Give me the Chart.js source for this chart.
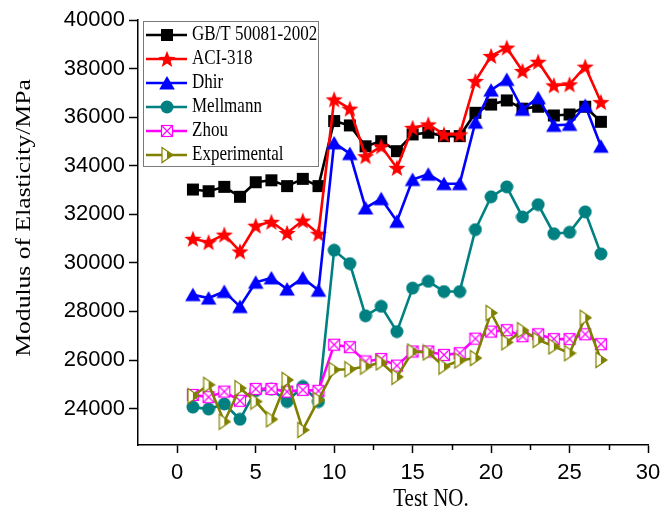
<!DOCTYPE html>
<html>
<head>
<meta charset="utf-8">
<script src="https://cdn.jsdelivr.net/npm/chart.js@4/dist/chart.umd.min.js"></script>
<style>
  html, body { margin: 0; padding: 0; background: #ffffff; }
  canvas { display: block; }
</style>
</head>
<body>
<canvas id="chart" width="660" height="512"></canvas>
<script>
// Test numbers 1..27
const tests = [1,2,3,4,5,6,7,8,9,10,11,12,13,14,15,16,17,18,19,20,21,22,23,24,25,26,27];

// Modulus of elasticity (MPa) predicted by each model, plus the measured values
const gbt = [33020, 32950, 33130, 32720, 33320, 33400, 33160, 33460, 33160, 35840, 35660, 34800, 35010, 34600, 35290, 35360, 35220, 35220, 36180, 36520, 36690, 36350, 36430, 36070, 36110, 36430, 35810];
const aci = [30990, 30850, 31160, 30470, 31530, 31690, 31230, 31740, 31200, 36730, 36350, 34390, 34800, 33910, 35560, 35700, 35290, 35290, 37490, 38520, 38860, 37900, 38280, 37310, 37350, 38080, 36620];
const dhir = [28690, 28550, 28820, 28200, 29200, 29380, 28920, 29380, 28870, 34940, 34500, 32260, 32640, 31710, 33430, 33650, 33260, 33260, 35790, 37110, 37550, 36320, 36800, 35660, 35700, 36480, 34800];
const mellmann = [24060, 23980, 24190, 23560, 24740, 24800, 24290, 24910, 24290, 30520, 29970, 27820, 28210, 27170, 28960, 29240, 28820, 28820, 31370, 32720, 33130, 31890, 32400, 31200, 31260, 32100, 30370];
const zhou = [24560, 24470, 24700, 24320, 24810, 24810, 24700, 24770, 24730, 26630, 26530, 25940, 26040, 25770, 26350, 26350, 26210, 26280, 26880, 27170, 27230, 26980, 27060, 26860, 26860, 27060, 26650];
const experimental = [24520, 24980, 23460, 24840, 24290, 23560, 25180, 23120, 24360, 25600, 25620, 25730, 25900, 25310, 26350, 26310, 25730, 25980, 26080, 27940, 26730, 27230, 26830, 26560, 26280, 27740, 26000];

const seriesNames = ['GB/T 50081-2002', 'ACI-318', 'Dhir', 'Mellmann', 'Zhou', 'Experimental'];

// Axis ticks
const xTicks = [0, 5, 10, 15, 20, 25, 30];
const xMinorTicks = [2.5, 7.5, 12.5, 17.5, 22.5, 27.5];
const yTicks = [24000, 26000, 28000, 30000, 32000, 34000, 36000, 38000, 40000];

const xTitle = 'Test NO.';
const yTitle = 'Modulus of Elasticity/MPa';

// ---- marker sprites ----
function sprite(w, h, draw) {
  const c = document.createElement('canvas');
  c.width = w; c.height = h;
  draw(c.getContext('2d'), w, h);
  return c;
}

const COLORS = ['#000000', '#ff0000', '#0000ff', '#008080', '#ff00ff', '#808000'];

const markers = [
  // filled square
  sprite(14, 14, (g) => { g.fillStyle = COLORS[0]; g.fillRect(1, 1, 12, 12); }),
  // filled five-point star
  sprite(20, 20, (g) => {
    g.fillStyle = COLORS[1];
    g.beginPath();
    for (let k = 0; k < 10; k++) {
      const r = k % 2 === 0 ? 9 : 3.8;
      const a = -Math.PI / 2 + k * Math.PI / 5;
      const px = 10 + r * Math.cos(a), py = 10.8 + r * Math.sin(a);
      if (k === 0) g.moveTo(px, py); else g.lineTo(px, py);
    }
    g.closePath(); g.fill();
  }),
  // filled up triangle
  sprite(18, 18, (g) => {
    g.fillStyle = COLORS[2];
    g.beginPath(); g.moveTo(9, 2); g.lineTo(16.8, 15.5); g.lineTo(1.2, 15.5); g.closePath(); g.fill();
  }),
  // filled circle
  sprite(14, 14, (g) => {
    g.fillStyle = COLORS[3];
    g.beginPath(); g.arc(7, 7, 6.5, 0, Math.PI * 2); g.fill();
  }),
  // hollow square with a cross
  sprite(14, 14, (g) => {
    g.fillStyle = '#ffffff'; g.fillRect(1.5, 1.5, 11, 11);
    g.strokeStyle = COLORS[4]; g.lineWidth = 1.2;
    g.strokeRect(1.5, 1.5, 11, 11);
    g.beginPath(); g.moveTo(1.5, 1.5); g.lineTo(12.5, 12.5); g.moveTo(12.5, 1.5); g.lineTo(1.5, 12.5); g.stroke();
  }),
  // right-pointing triangle, half filled
  sprite(14, 18, (g) => {
    g.beginPath(); g.moveTo(2, 1.5); g.lineTo(13, 9); g.lineTo(2, 16.5); g.closePath();
    g.fillStyle = '#fffff4'; g.fill();
    g.save(); g.clip();
    g.fillStyle = COLORS[5]; g.fillRect(7, 0, 8, 18);
    g.restore();
    g.strokeStyle = COLORS[5]; g.lineWidth = 1.2; g.stroke();
  })
];

const allSeries = [gbt, aci, dhir, mellmann, zhou, experimental];

const datasets = allSeries.map((vals, i) => ({
  label: seriesNames[i],
  data: tests.map((t, j) => ({ x: t, y: vals[j] })),
  borderColor: COLORS[i],
  backgroundColor: COLORS[i],
  borderWidth: 2.6,
  pointStyle: markers[i],
  pointRadius: 7,
  pointHoverRadius: 7,
  tension: 0,
  order: 5 - i,
  clip: false
}));

const SERIF = '"Liberation Serif", "Times New Roman", serif';
const SANS = '"Liberation Sans", Arial, sans-serif';

// Minor x ticks, axis titles and the boxed legend
const decor = {
  id: 'decor',
  afterDraw(chart) {
    const ctx = chart.ctx;
    const xs = chart.scales.x, ys = chart.scales.y;
    ctx.save();
    ctx.strokeStyle = '#000'; ctx.lineWidth = 1.5;
    xMinorTicks.forEach(v => {
      const px = Math.round(xs.getPixelForValue(v)) + 0.5;
      ctx.beginPath(); ctx.moveTo(px, ys.bottom); ctx.lineTo(px, ys.bottom + 5); ctx.stroke();
    });
    ctx.restore();

    // axis titles
    ctx.save();
    ctx.fillStyle = '#000';
    ctx.font = '21px ' + SERIF;
    ctx.textAlign = 'center'; ctx.textBaseline = 'middle';
    ctx.translate(24, 218);
    ctx.rotate(-Math.PI / 2);
    ctx.scale(1.22, 1);
    ctx.fillText(yTitle, 0, 0);
    ctx.restore();

    ctx.save();
    ctx.fillStyle = '#000';
    ctx.font = '21px ' + SERIF;
    ctx.textAlign = 'center'; ctx.textBaseline = 'middle';
    ctx.translate(431, 499);
    ctx.scale(1, 1.18);
    ctx.fillText(xTitle, 0, 0);
    ctx.restore();

    // legend
    ctx.save();
    ctx.fillStyle = '#ffffff';
    ctx.fillRect(143, 21, 175, 145);
    ctx.strokeStyle = '#7a7a7a'; ctx.lineWidth = 1;
    ctx.strokeRect(143.5, 21.5, 175, 145);
    chart.data.datasets.forEach((ds, i) => {
      const cy = 35 + i * 24;
      ctx.strokeStyle = ds.borderColor; ctx.lineWidth = 2.6;
      ctx.beginPath(); ctx.moveTo(146, cy); ctx.lineTo(187, cy); ctx.stroke();
      const m = ds.pointStyle;
      ctx.drawImage(m, Math.round(166.5 - m.width / 2), Math.round(cy - m.height / 2));
      ctx.save();
      ctx.fillStyle = '#000';
      ctx.font = '17px ' + SERIF;
      ctx.textAlign = 'left'; ctx.textBaseline = 'middle';
      ctx.translate(192, cy);
      ctx.scale(1, 1.18);
      ctx.fillText(ds.label, 0, 0);
      ctx.restore();
    });
    ctx.restore();
  }
};

new Chart(document.getElementById('chart'), {
  type: 'line',
  data: { datasets },
  options: {
    responsive: false,
    animation: false,
    devicePixelRatio: 1,
    layout: { padding: { top: 20, right: 0, left: 0, bottom: 0 } },
    plugins: { legend: { display: false }, tooltip: { enabled: false } },
    scales: {
      x: {
        type: 'linear',
        min: -2.5, max: 30,
        afterBuildTicks: (s) => { s.ticks = xTicks.map(v => ({ value: v })); },
        afterFit: (s) => { s.height = 67; s.paddingRight = 12; },
        border: { display: true, color: '#000', width: 1.5 },
        grid: { display: true, drawOnChartArea: false, drawTicks: true, tickLength: 8, tickColor: '#000', tickWidth: 1.5 },
        ticks: { color: '#000', font: { family: SANS, size: 22 }, padding: 7, maxRotation: 0, autoSkip: false }
      },
      y: {
        type: 'linear',
        min: 22500, max: 40000,
        afterBuildTicks: (s) => { s.ticks = yTicks.map(v => ({ value: v })); },
        afterFit: (s) => { s.width = 138; },
        border: { display: true, color: '#000', width: 1.5 },
        grid: { display: true, drawOnChartArea: false, drawTicks: true, tickLength: 9, tickColor: '#000', tickWidth: 1.5 },
        ticks: { color: '#000', font: { family: SANS, size: 22 }, padding: 4, autoSkip: false,
                 callback: (v) => String(v) }
      }
    }
  },
  plugins: [decor]
});
</script>
</body>
</html>
